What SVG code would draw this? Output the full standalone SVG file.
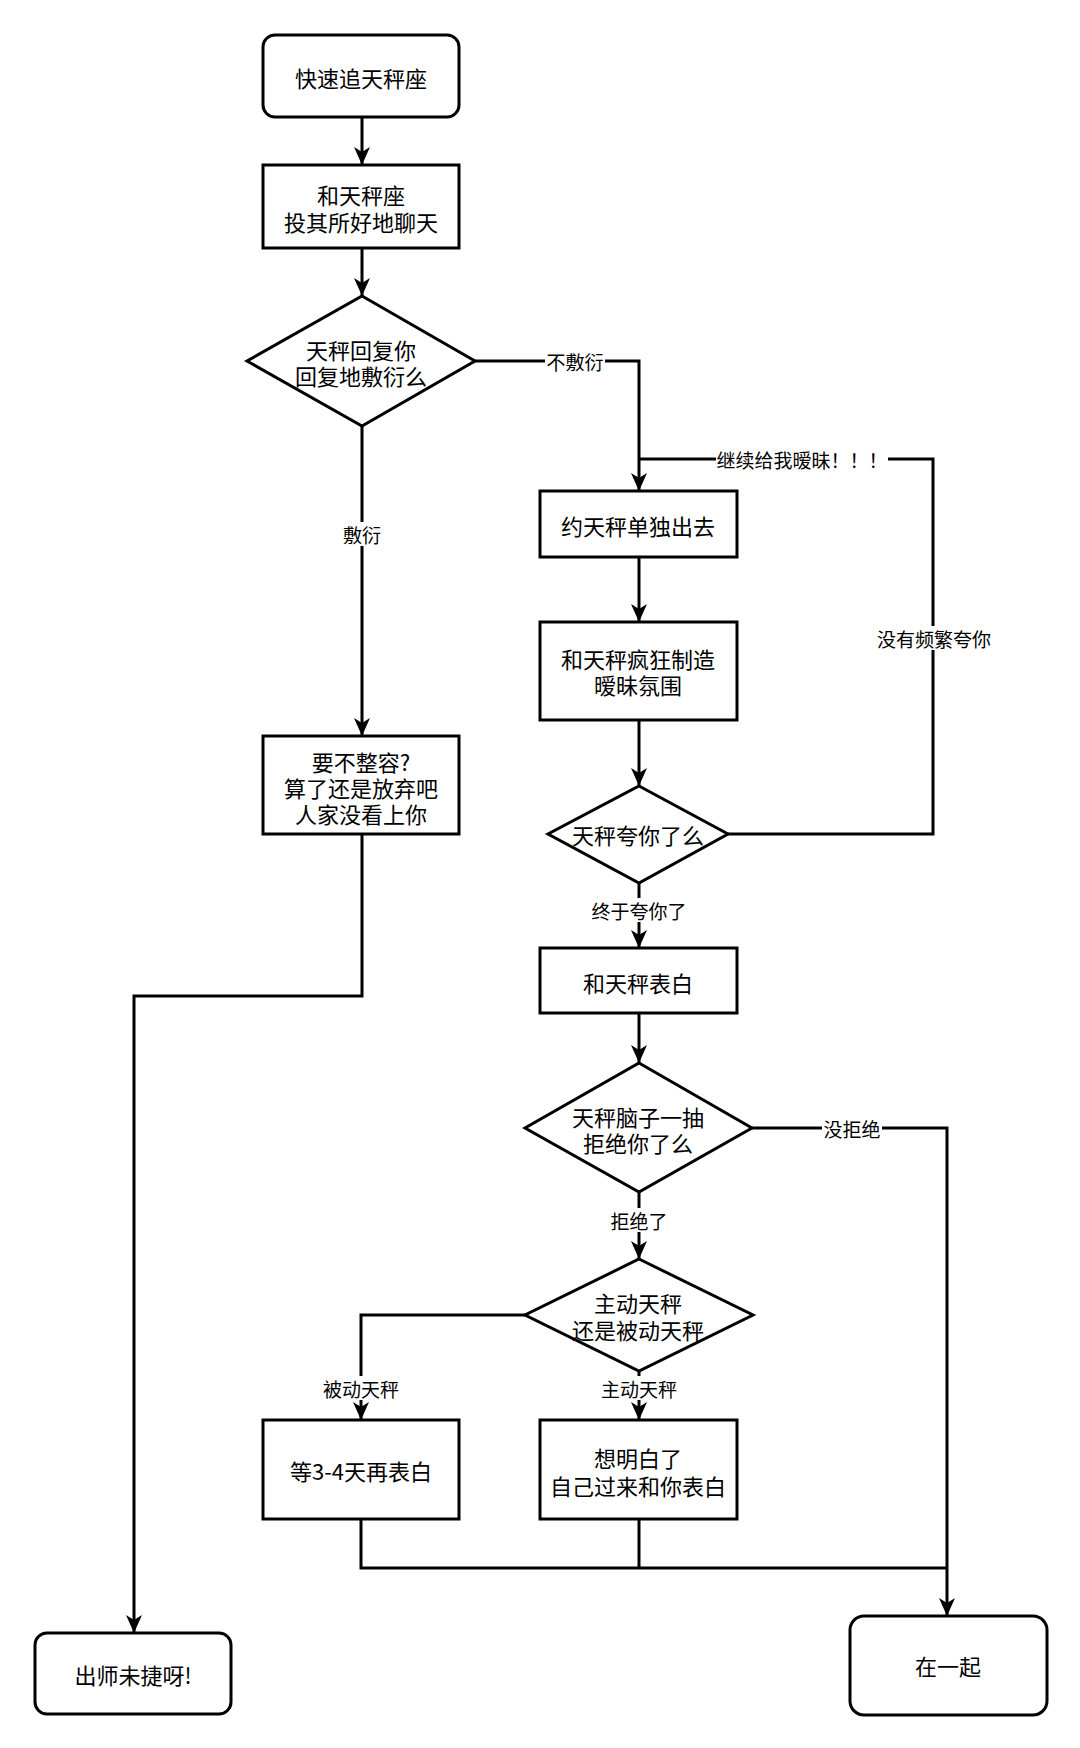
<svg xmlns="http://www.w3.org/2000/svg" width="1080" height="1748" viewBox="0 0 1080 1748">
<style>
.n{fill:#fff;stroke:#000;stroke-width:3}
.t{font-family:"Noto Sans CJK SC","Liberation Sans",sans-serif;font-size:22px;fill:#000;text-anchor:middle;dominant-baseline:central}
.l{font-family:"Noto Sans CJK SC","Liberation Sans",sans-serif;font-size:19px;fill:#000;text-anchor:middle;dominant-baseline:central}
.c{fill:none;stroke:#000;stroke-width:3}
.lb{fill:#fff}
</style>
<defs>
<marker id="a" markerUnits="userSpaceOnUse" markerWidth="18" markerHeight="16" refX="18" refY="8" orient="auto">
<path d="M0,0 L18,8 L0,16 L5,8 Z" fill="#000"/>
</marker>
</defs>
<rect width="1080" height="1748" fill="#fff"/>
<g id="connectors">
<path class="c" d="M362,117 V165" marker-end="url(#a)"/>
<path class="c" d="M362,248 V296" marker-end="url(#a)"/>
<path class="c" d="M362,426 V736" marker-end="url(#a)"/>
<path class="c" d="M475,361 H639 V491" marker-end="url(#a)"/>
<path class="c" d="M639,557 V622" marker-end="url(#a)"/>
<path class="c" d="M639,720 V786" marker-end="url(#a)"/>
<path class="c" d="M728,834 H933 V459 H639"/>
<path class="c" d="M639,883 V948" marker-end="url(#a)"/>
<path class="c" d="M639,1013 V1063" marker-end="url(#a)"/>
<path class="c" d="M639,1192 V1259" marker-end="url(#a)"/>
<path class="c" d="M752,1128 H947 V1616" marker-end="url(#a)"/>
<path class="c" d="M525,1315 H361 V1420" marker-end="url(#a)"/>
<path class="c" d="M639,1371 V1420" marker-end="url(#a)"/>
<path class="c" d="M361,1519 V1568 H947"/>
<path class="c" d="M639,1519 V1568"/>
<path class="c" d="M362,834 V996 H134 V1633" marker-end="url(#a)"/>
<rect class="lb" x="343" y="522" width="38" height="24"/>
<text class="l" x="362" y="534">敷衍</text>
<rect class="lb" x="545" y="349" width="60" height="24"/>
<text class="l" x="575" y="361">不敷衍</text>
<rect class="lb" x="716" y="447" width="172" height="24"/>
<text class="l" x="802" y="459">继续给我暧昧！！！</text>
<rect class="lb" x="875" y="626" width="117" height="24"/>
<text class="l" x="934" y="638">没有频繁夸你</text>
<rect class="lb" x="591" y="898" width="97" height="24"/>
<text class="l" x="639" y="910">终于夸你了</text>
<rect class="lb" x="822" y="1116" width="60" height="24"/>
<text class="l" x="852" y="1128">没拒绝</text>
<rect class="lb" x="609" y="1208" width="60" height="24"/>
<text class="l" x="639" y="1220">拒绝了</text>
<rect class="lb" x="322" y="1376" width="78" height="24"/>
<text class="l" x="361" y="1388">被动天秤</text>
<rect class="lb" x="600" y="1376" width="78" height="24"/>
<text class="l" x="639" y="1388">主动天秤</text>
</g>
<g id="start">
<rect class="n" x="263" y="35" width="196" height="82" rx="12"/>
<text class="t" x="361" y="77">快速追天秤座</text>
</g>
<g id="chat">
<rect class="n" x="263" y="165" width="196" height="83"/>
<text class="t"><tspan x="361" y="194">和天秤座</tspan><tspan x="361" y="221">投其所好地聊天</tspan></text>
</g>
<g id="d1">
<polygon class="n" points="362,296 475,361 362,426 247,361"/>
<text class="t"><tspan x="361" y="349">天秤回复你</tspan><tspan x="361" y="375">回复地敷衍么</tspan></text>
</g>
<g id="giveup">
<rect class="n" x="263" y="736" width="196" height="98"/>
<text class="t"><tspan x="361" y="761">要不整容?</tspan><tspan x="361" y="787">算了还是放弃吧</tspan><tspan x="361" y="813">人家没看上你</tspan></text>
</g>
<g id="date">
<rect class="n" x="540" y="491" width="197" height="66"/>
<text class="t" x="638" y="525">约天秤单独出去</text>
</g>
<g id="flirt">
<rect class="n" x="540" y="622" width="197" height="98"/>
<text class="t"><tspan x="638" y="658">和天秤疯狂制造</tspan><tspan x="638" y="684">暧昧氛围</tspan></text>
</g>
<g id="d2">
<polygon class="n" points="639,786 728,834 639,883 548,834"/>
<text class="t" x="638" y="834">天秤夸你了么</text>
</g>
<g id="confess">
<rect class="n" x="540" y="948" width="197" height="65"/>
<text class="t" x="638" y="982">和天秤表白</text>
</g>
<g id="d3">
<polygon class="n" points="639,1063 752,1128 639,1192 525,1128"/>
<text class="t"><tspan x="638" y="1116">天秤脑子一抽</tspan><tspan x="638" y="1142">拒绝你了么</tspan></text>
</g>
<g id="d4">
<polygon class="n" points="639,1259 753,1315 639,1371 525,1315"/>
<text class="t"><tspan x="638" y="1302">主动天秤</tspan><tspan x="638" y="1329">还是被动天秤</tspan></text>
</g>
<g id="wait">
<rect class="n" x="263" y="1420" width="196" height="99"/>
<text class="t" x="361" y="1470">等3-4天再表白</text>
</g>
<g id="active">
<rect class="n" x="540" y="1420" width="197" height="99"/>
<text class="t"><tspan x="638" y="1457">想明白了</tspan><tspan x="638" y="1485">自己过来和你表白</tspan></text>
</g>
<g id="fail">
<rect class="n" x="35" y="1633" width="196" height="81" rx="12"/>
<text class="t" x="133" y="1674">出师未捷呀!</text>
</g>
<g id="together">
<rect class="n" x="850" y="1616" width="197" height="99" rx="14"/>
<text class="t" x="948" y="1665">在一起</text>
</g>
</svg>
